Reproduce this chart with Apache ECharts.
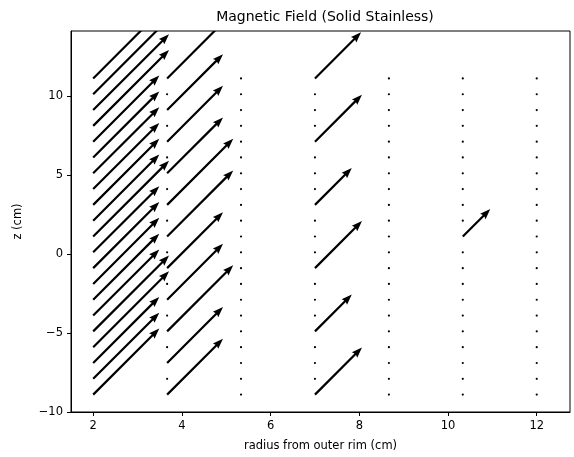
<!DOCTYPE html>
<html>
<head>
<meta charset="utf-8">
<script src="https://cdn.jsdelivr.net/npm/echarts@6/dist/echarts.min.js"></script>
<style>
  html, body { margin: 0; padding: 0; background: #fff; }
  #chart { width: 574px; height: 457px; }
</style>
</head>
<body>
<div id="chart"></div>
<script>
// grid positions (radius in cm, z in cm)
const radiusCols = [2, 3.667, 5.333, 7, 8.667, 10.333, 12]
const zRows = [-8.9, -7.9, -6.9, -5.9, -4.9, -3.9, -2.9, -1.9, -0.9, 0.1, 1.1,
               2.1, 3.1, 4.1, 5.1, 6.1, 7.1, 8.1, 9.1, 10.1, 11.1]

// arrow length per grid point, as radial extent in cm (0 = zero field, drawn as a dot)
const fieldCol1 = [1.49, 1.49, 1.49, 1.71, 1.71, 1.49, 1.49, 1.49, 1.49, 1.49, 1.71,
                   1.49, 1.49, 1.49, 1.49, 1.49, 1.49, 1.71, 1.71, 1.71, 1.71]
const fieldCol2 = [1.26, 0, 1.26, 0, 1.49, 0, 1.26, 0, 1.26, 0, 1.49,
                   0, 1.49, 0, 1.26, 0, 1.26, 0, 1.26, 0, 1.49]
const fieldCol3 = [0, 0, 0, 0, 0, 0, 0, 0, 0, 0, 0, 0, 0, 0, 0, 0, 0, 0, 0, 0, 0]
const fieldCol4 = [1.06, 0, 0, 0, 0.83, 0, 0, 0, 1.06, 0, 0,
                   0, 0.83, 0, 0, 0, 1.06, 0, 0, 0, 1.04]
const fieldCol5 = [0, 0, 0, 0, 0, 0, 0, 0, 0, 0, 0, 0, 0, 0, 0, 0, 0, 0, 0, 0, 0]
const fieldCol6 = [0, 0, 0, 0, 0, 0, 0, 0, 0, 0, 0.62, 0, 0, 0, 0, 0, 0, 0, 0, 0, 0]
const fieldCol7 = [0, 0, 0, 0, 0, 0, 0, 0, 0, 0, 0, 0, 0, 0, 0, 0, 0, 0, 0, 0, 0]

const xTicks = [2, 4, 6, 8, 10, 12]
const yTicks = [-10, -5, 0, 5, 10]

const fieldCols = [fieldCol1, fieldCol2, fieldCol3, fieldCol4, fieldCol5, fieldCol6, fieldCol7]
const points = []
radiusCols.forEach((r, i) => {
  zRows.forEach((z, j) => {
    points.push([r, z, fieldCols[i][j]])
  })
})

const minus = v => String(v).replace('-', '\u2212')
const font = 'DejaVu Sans'

function renderArrow(params, api) {
  const p = api.coord([api.value(0), api.value(1)])
  const len = api.value(2)
  if (!len) {
    return { type: 'circle', shape: { cx: p[0], cy: p[1], r: 1.1 }, style: { fill: '#000' } }
  }
  const L = api.size([len, 0])[0]
  const tip = [p[0] + L, p[1] - L]
  const d = [Math.SQRT1_2, -Math.SQRT1_2]
  const n = [Math.SQRT1_2, Math.SQRT1_2]
  const hw = 1.1, hh = 3.8, headLen = 10.5, headAxis = 9.5
  const at = (base, back, side) => [
    base[0] - d[0] * back + n[0] * side,
    base[1] - d[1] * back + n[1] * side
  ]
  const pts = [
    at(p, 0, hw), at(tip, headAxis, hw), at(tip, headLen, hh), tip,
    at(tip, headLen, -hh), at(tip, headAxis, -hw), at(p, 0, -hw)
  ]
  return { type: 'polygon', shape: { points: pts }, style: { fill: '#000' } }
}

const myChart = echarts.init(document.getElementById('chart'))
const option = {
  animation: false,
  title: {
    text: 'Magnetic Field (Solid Stainless)',
    left: 320, top: 5, textAlign: 'center',
    textStyle: { fontFamily: font, fontSize: 14, fontWeight: 'normal', color: '#000' }
  },
  grid: {
    left: 71, right: 4, top: 31, bottom: 45,
    show: true, borderColor: '#000', borderWidth: 1
  },
  xAxis: {
    type: 'value', min: 1.5, max: 12.75,
    name: 'radius from outer rim (cm)', nameLocation: 'middle', nameGap: 28,
    nameTextStyle: { fontFamily: font, fontSize: 11.5, color: '#000' },
    axisLine: { onZero: false, lineStyle: { color: '#000', width: 1 } },
    axisTick: { length: 4, customValues: xTicks, lineStyle: { color: '#000' } },
    axisLabel: { customValues: xTicks, margin: 8, formatter: minus,
                 fontFamily: font, fontSize: 11.5, color: '#000' },
    splitLine: { show: false }
  },
  yAxis: {
    type: 'value', min: -10, max: 14.1,
    name: 'z (cm)', nameLocation: 'middle', nameGap: 47, nameRotate: 90,
    nameTextStyle: { fontFamily: font, fontSize: 11.5, color: '#000' },
    axisLine: { onZero: false, lineStyle: { color: '#000', width: 1 } },
    axisTick: { length: 4, customValues: yTicks, lineStyle: { color: '#000' } },
    axisLabel: { customValues: yTicks, margin: 8, formatter: minus,
                 fontFamily: font, fontSize: 11.5, color: '#000' },
    splitLine: { show: false }
  },
  series: [{
    type: 'custom',
    clip: true,
    renderItem: renderArrow,
    data: points
  }]
}
myChart.setOption(option)
</script>
</body>
</html>
